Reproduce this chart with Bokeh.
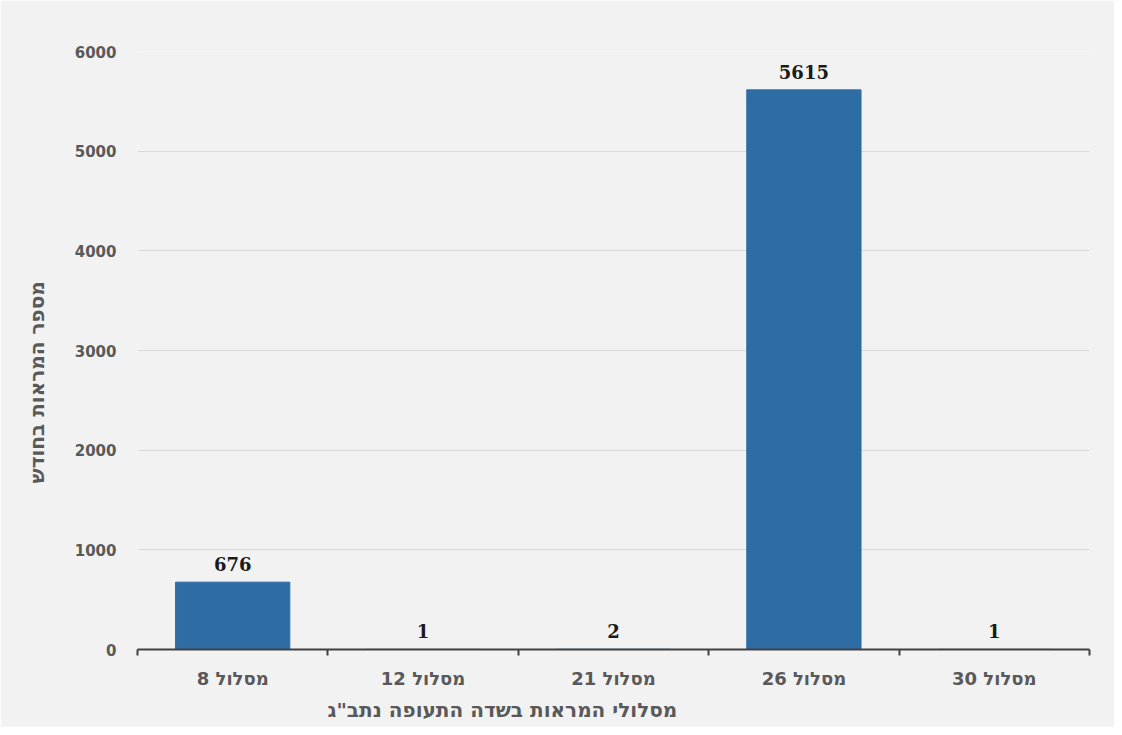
import math
from bokeh.plotting import figure
from bokeh.models import ColumnDataSource, LabelSet, Title, FixedTicker, Range1d
from bokeh.core.properties import value
from bokeh.embed import file_html
from bokeh.resources import INLINE

categories = ["מסלול 8", "מסלול 12", "מסלול 21", "מסלול 26", "מסלול 30"]
counts = [676, 1, 2, 5615, 1]
y_ticks = [0, 1000, 2000, 3000, 4000, 5000, 6000]
x_title = 'מסלולי המראות בשדה התעופה נתב"ג'
y_title = "מספר המראות בחודש"

centers = [i + 0.5 for i in range(len(categories))]
bounds = list(range(len(categories) + 1))

src = ColumnDataSource(dict(x=centers, top=counts, lab=[str(c) for c in counts]))

W, H = 1114, 727
p = figure(width=W, height=H, output_backend="svg", toolbar_location=None,
           x_range=Range1d(0, len(categories)), y_range=Range1d(0, 6000),
           min_border_left=137, min_border_right=25, min_border_top=51, min_border_bottom=78)

p.background_fill_color = "#f2f2f2"
p.border_fill_color = "#f2f2f2"
p.outline_line_color = None

p.vbar(x="x", top="top", width=0.6, bottom=0, source=src,
       fill_color="#2e6ca4", line_color="#2e6ca4")

labels = LabelSet(x="x", y="top", text="lab", source=src, y_offset=11,
                  text_align="center", text_baseline="alphabetic",
                  text_font=value("DejaVu Serif"), text_font_style="bold",
                  text_font_size="18px", text_color="#1a1a1a")
p.add_layout(labels)

# x axis
p.xaxis.ticker = FixedTicker(ticks=centers, minor_ticks=bounds)
p.xaxis.major_label_overrides = {c: lab for c, lab in zip(centers, categories)}
p.xaxis.major_tick_out = 0
p.xaxis.major_tick_in = 0
p.xaxis.minor_tick_out = 6
p.xaxis.minor_tick_in = 0
p.xaxis.minor_tick_line_color = "#404040"
p.xaxis.minor_tick_line_width = 2
p.xaxis.axis_line_color = "#404040"
p.xaxis.axis_line_width = 2
p.xaxis.major_label_standoff = 12
p.xaxis.major_label_text_font = "DejaVu Sans"
p.xaxis.major_label_text_font_style = "bold"
p.xaxis.major_label_text_font_size = "18px"
p.xaxis.major_label_text_color = "#595959"

# y axis
p.yaxis.ticker = FixedTicker(ticks=y_ticks, minor_ticks=[])
p.yaxis.axis_line_color = None
p.yaxis.major_tick_line_color = None
p.yaxis.minor_tick_line_color = None
p.yaxis.major_label_standoff = 15
p.yaxis.major_label_text_font = "DejaVu Sans"
p.yaxis.major_label_text_font_style = "bold"
p.yaxis.major_label_text_font_size = "15px"
p.yaxis.major_label_text_color = "#595959"

p.xgrid.grid_line_color = None
p.ygrid.grid_line_color = "#d9d9d9"
p.ygrid.grid_line_width = 1

p.add_layout(Title(text=x_title, align="left", offset=190, standoff=9,
                   text_font="DejaVu Sans", text_font_style="bold",
                   text_font_size="20px", text_color="#595959"), "below")
p.add_layout(Title(text=y_title, align="left", offset=166, standoff=45,
                   text_font="DejaVu Sans", text_font_style="bold",
                   text_font_size="20px", text_color="#595959"), "left")

open("out.html", "w").write(file_html(p, INLINE))
